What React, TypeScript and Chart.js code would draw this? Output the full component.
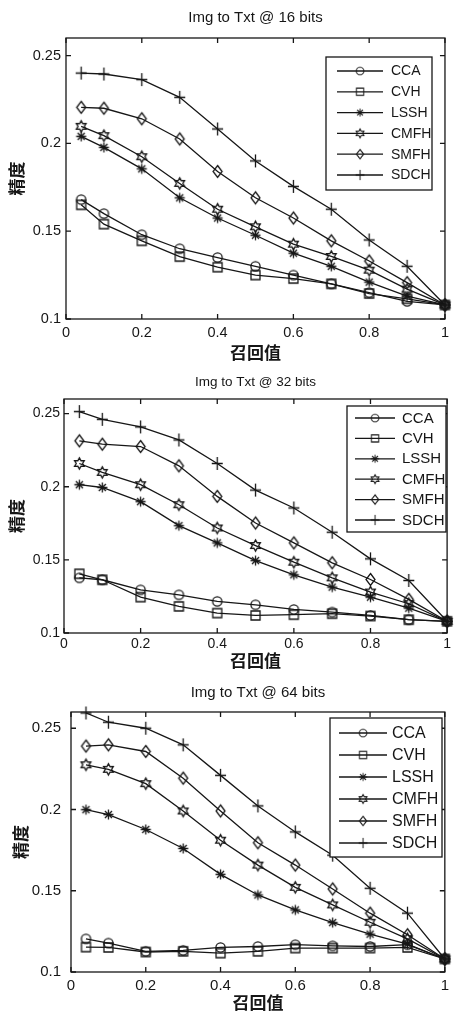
import React, { useEffect, useRef } from "react";
import { Chart, registerables } from "chart.js";

Chart.register(...registerables);

const recallLevels = [0.04, 0.1, 0.2, 0.3, 0.4, 0.5, 0.6, 0.7, 0.8, 0.9, 1.0];
const methodNames = ["CCA", "CVH", "LSSH", "CMFH", "SMFH", "SDCH"];
const xTickValues = [0, 0.2, 0.4, 0.6, 0.8, 1];
const yTickValues = [0.1, 0.15, 0.2, 0.25];
const chartTitles = ["Img to Txt @ 16 bits", "Img to Txt @ 32 bits", "Img to Txt @ 64 bits"];
const xAxisTitle = "召回值";
const yAxisTitle = "精度";

// 16 bits
const cca16 = [0.168, 0.16, 0.148, 0.14, 0.135, 0.13, 0.125, 0.12, 0.115, 0.11, 0.108];
const cvh16 = [0.165, 0.154, 0.1445, 0.1355, 0.1295, 0.125, 0.123, 0.12, 0.1145, 0.1115, 0.108];
const lssh16 = [0.204, 0.1977, 0.1855, 0.169, 0.1575, 0.1477, 0.1375, 0.13, 0.121, 0.113, 0.108];
const cmfh16 = [0.2097, 0.2044, 0.1924, 0.1772, 0.1625, 0.1525, 0.1426, 0.1356, 0.1278, 0.117, 0.108];
const smfh16 = [0.2205, 0.22, 0.214, 0.2025, 0.184, 0.169, 0.1575, 0.1445, 0.133, 0.1207, 0.108];
const sdch16 = [0.24, 0.2395, 0.2363, 0.2262, 0.2082, 0.19, 0.1755, 0.1625, 0.145, 0.13, 0.108];

// 32 bits
const cca32 = [0.1377, 0.1364, 0.1295, 0.1261, 0.1216, 0.1193, 0.1161, 0.1143, 0.112, 0.1091, 0.108];
const cvh32 = [0.1405, 0.1364, 0.1245, 0.1182, 0.1136, 0.112, 0.1125, 0.1132, 0.1116, 0.1091, 0.108];
const lssh32 = [0.2014, 0.1995, 0.1898, 0.1734, 0.1616, 0.1495, 0.1398, 0.1314, 0.1245, 0.117, 0.108];
const cmfh32 = [0.2159, 0.2098, 0.2014, 0.1877, 0.1718, 0.1598, 0.1484, 0.1377, 0.128, 0.12, 0.108];
const smfh32 = [0.2314, 0.2291, 0.2275, 0.2143, 0.1934, 0.1752, 0.1616, 0.148, 0.1366, 0.123, 0.108];
const sdch32 = [0.2514, 0.2461, 0.2409, 0.232, 0.2159, 0.1977, 0.1855, 0.1689, 0.1507, 0.1359, 0.108];

// 64 bits
const cca64 = [0.1204, 0.1178, 0.1127, 0.1133, 0.1151, 0.1157, 0.1168, 0.1161, 0.1157, 0.1168, 0.108];
const cvh64 = [0.1153, 0.1151, 0.1123, 0.1127, 0.1116, 0.1127, 0.1147, 0.1147, 0.1147, 0.1151, 0.108];
const lssh64 = [0.1999, 0.1969, 0.1877, 0.176, 0.1601, 0.1474, 0.1382, 0.1304, 0.1233, 0.1172, 0.108];
const cmfh64 = [0.2275, 0.2247, 0.2159, 0.1991, 0.1811, 0.1658, 0.1521, 0.1413, 0.1306, 0.1204, 0.108];
const smfh64 = [0.239, 0.2398, 0.2357, 0.2193, 0.1991, 0.1795, 0.1658, 0.1511, 0.1362, 0.1229, 0.108];
const sdch64 = [0.2594, 0.2537, 0.25, 0.2398, 0.221, 0.2022, 0.1862, 0.1719, 0.1515, 0.1362, 0.108];

const INK = "#161616";
const FONT = '"Liberation Sans", Arial, Helvetica, sans-serif';
const CJK = '"Noto Sans CJK SC", "Noto Sans CJK JP", sans-serif';
const markerKinds = ["circle", "square", "asterisk", "hexagram", "diamond", "plus"];

function makeMarker(kind: string): HTMLCanvasElement {
  const s = 17;
  const c = document.createElement("canvas");
  c.width = s;
  c.height = s;
  const g = c.getContext("2d")!;
  g.strokeStyle = INK;
  g.lineWidth = 1.3;
  const m = s / 2;
  g.beginPath();
  if (kind === "circle") {
    g.arc(m, m, 4.6, 0, Math.PI * 2);
  } else if (kind === "square") {
    g.rect(m - 4.5, m - 4.5, 9, 9);
  } else if (kind === "asterisk") {
    for (let k = 0; k < 4; k++) {
      const a = (k * Math.PI) / 4;
      g.moveTo(m + Math.cos(a) * 5, m + Math.sin(a) * 5);
      g.lineTo(m - Math.cos(a) * 5, m - Math.sin(a) * 5);
    }
  } else if (kind === "hexagram") {
    for (let k = 0; k < 12; k++) {
      const a = -Math.PI / 2 + (k * Math.PI) / 6;
      const r = k % 2 === 0 ? 5.6 : 3.2;
      const px = m + Math.cos(a) * r;
      const py = m + Math.sin(a) * r;
      if (k === 0) g.moveTo(px, py);
      else g.lineTo(px, py);
    }
    g.closePath();
  } else if (kind === "diamond") {
    g.moveTo(m, m - 6);
    g.lineTo(m + 4.5, m);
    g.lineTo(m, m + 6);
    g.lineTo(m - 4.5, m);
    g.closePath();
  } else if (kind === "plus") {
    g.moveTo(m - 5.5, m);
    g.lineTo(m + 5.5, m);
    g.moveTo(m, m - 6.5);
    g.lineTo(m, m + 6.5);
  }
  g.stroke();
  return c;
}

type PanelSpec = {
  title: string;
  series: number[][];
  top: number;
  height: number;
  plot: { left: number; right: number; top: number; bottom: number };
  titleY: number;
  titleSize: number;
  tickSize: number;
  yTickPad: number;
  xTickPad: number;
  yTitlePad: number;
  xTitlePad: number;
  legend: { x0: number; y0: number; x1: number; y1: number; row0: number; step: number; lx0: number; lx1: number; tx: number; size: number };
};

const panels: PanelSpec[] = [
  {
    title: chartTitles[0],
    series: [cca16, cvh16, lssh16, cmfh16, smfh16, sdch16],
    top: 0,
    height: 368,
    plot: { left: 66, right: 447, top: 38, bottom: 319 },
    titleY: 18,
    titleSize: 15,
    tickSize: 14.5,
    yTickPad: 5,
    xTickPad: 5,
    yTitlePad: 8.5,
    xTitlePad: 6.5,
    legend: { x0: 326, y0: 57, x1: 432, y1: 190, row0: 71, step: 20.8, lx0: 337, lx1: 383, tx: 391, size: 14 },
  },
  {
    title: chartTitles[1],
    series: [cca32, cvh32, lssh32, cmfh32, smfh32, sdch32],
    top: 368,
    height: 310,
    plot: { left: 64, right: 451, top: 31, bottom: 265 },
    titleY: 14,
    titleSize: 13.5,
    tickSize: 14,
    yTickPad: 4,
    xTickPad: 3,
    yTitlePad: 8.5,
    xTitlePad: 8.5,
    legend: { x0: 347, y0: 38, x1: 446, y1: 164, row0: 50, step: 20.4, lx0: 355, lx1: 395, tx: 402, size: 15 },
  },
  {
    title: chartTitles[2],
    series: [cca64, cvh64, lssh64, cmfh64, smfh64, sdch64],
    top: 678,
    height: 334,
    plot: { left: 71, right: 448, top: 34, bottom: 294 },
    titleY: 15,
    titleSize: 15,
    tickSize: 15,
    yTickPad: 10,
    xTickPad: 5,
    yTitlePad: 12.5,
    xTitlePad: 0.5,
    legend: { x0: 330, y0: 40, x1: 442, y1: 179, row0: 55, step: 22, lx0: 339, lx1: 387, tx: 392, size: 16 },
  },
];

const fmt = (v: number) => String(+Number(v).toFixed(2));

function buildConfig(spec: PanelSpec, markers: HTMLCanvasElement[]): any {
  const W = 454;
  const framePlugin = {
    id: "matlabFrame",
    afterDraw(chart: any) {
      const { ctx, chartArea: a, scales } = chart;
      ctx.save();
      ctx.strokeStyle = INK;
      ctx.lineWidth = 1.3;
      ctx.strokeRect(a.left, a.top, a.right - a.left, a.bottom - a.top);
      const tl = 5;
      ctx.beginPath();
      for (const v of xTickValues) {
        const px = scales.x.getPixelForValue(v);
        ctx.moveTo(px, a.bottom);
        ctx.lineTo(px, a.bottom - tl);
        ctx.moveTo(px, a.top);
        ctx.lineTo(px, a.top + tl);
      }
      for (const v of yTickValues) {
        const py = scales.y.getPixelForValue(v);
        ctx.moveTo(a.left, py);
        ctx.lineTo(a.left + tl, py);
        ctx.moveTo(a.right, py);
        ctx.lineTo(a.right - tl, py);
      }
      ctx.stroke();
      // title
      ctx.fillStyle = INK;
      ctx.font = `${spec.titleSize}px ${FONT}`;
      ctx.textAlign = "center";
      ctx.textBaseline = "middle";
      ctx.fillText(spec.title, (a.left + a.right) / 2, spec.titleY);
      // legend
      const L = spec.legend;
      ctx.fillStyle = "#ffffff";
      ctx.fillRect(L.x0, L.y0, L.x1 - L.x0, L.y1 - L.y0);
      ctx.strokeRect(L.x0, L.y0, L.x1 - L.x0, L.y1 - L.y0);
      ctx.font = `${L.size}px ${FONT}`;
      ctx.textAlign = "left";
      chart.data.datasets.forEach((ds: any, i: number) => {
        const y = L.row0 + i * L.step;
        ctx.beginPath();
        ctx.lineWidth = 1.3;
        ctx.moveTo(L.lx0, y);
        ctx.lineTo(L.lx1, y);
        ctx.stroke();
        const img = markers[i];
        const k = 0.8;
        const w = img.width * k;
        const h = img.height * k;
        ctx.drawImage(img, (L.lx0 + L.lx1) / 2 - w / 2, y - h / 2, w, h);
        ctx.fillStyle = INK;
        ctx.fillText(ds.label, L.tx, y + 0.5);
      });
      ctx.restore();
    },
  };

  return {
    type: "line",
    data: {
      datasets: methodNames.map((name, i) => ({
        label: name,
        data: recallLevels.map((x, j) => ({ x, y: spec.series[i][j] })),
        borderColor: INK,
        borderWidth: 1.3,
        backgroundColor: "transparent",
        pointStyle: markers[i],
        pointRadius: 5,
        fill: false,
        tension: 0,
        clip: false,
      })),
    },
    options: {
      responsive: false,
      animation: false,
      events: [],
      layout: {
        padding: { left: 0, top: spec.plot.top, right: W - spec.plot.right, bottom: 0 },
      },
      plugins: {
        legend: { display: false },
        title: { display: false },
        tooltip: { enabled: false },
      },
      scales: {
        x: {
          type: "linear",
          min: 0,
          max: 1,
          afterBuildTicks: (s: any) => {
            s.ticks = xTickValues.map((v) => ({ value: v }));
          },
          afterFit: (s: any) => {
            s.height = spec.height - spec.plot.bottom;
          },
          grid: { display: false, drawTicks: false },
          border: { display: false },
          ticks: {
            callback: (v: any) => fmt(v),
            color: INK,
            font: { family: FONT, size: spec.tickSize },
            padding: spec.xTickPad,
            maxRotation: 0,
            autoSkip: false,
          },
          title: {
            display: true,
            text: xAxisTitle,
            color: INK,
            font: { family: CJK, size: 17, weight: "bold", lineHeight: 1 },
            padding: { top: 0, bottom: spec.xTitlePad },
          },
        },
        y: {
          type: "linear",
          min: 0.1,
          max: 0.26,
          afterBuildTicks: (s: any) => {
            s.ticks = yTickValues.map((v) => ({ value: v }));
          },
          afterFit: (s: any) => {
            s.width = spec.plot.left;
          },
          grid: { display: false, drawTicks: false },
          border: { display: false },
          ticks: {
            callback: (v: any) => fmt(v),
            color: INK,
            font: { family: FONT, size: spec.tickSize },
            padding: spec.yTickPad,
            autoSkip: false,
          },
          title: {
            display: true,
            text: yAxisTitle,
            color: INK,
            font: { family: CJK, size: 17, weight: "bold", lineHeight: 1 },
            padding: { top: spec.yTitlePad, bottom: 0 },
          },
        },
      },
    },
    plugins: [framePlugin],
  };
}

function Panel({ spec }: { spec: PanelSpec }) {
  const ref = useRef<HTMLCanvasElement>(null);
  useEffect(() => {
    const markers = markerKinds.map(makeMarker);
    const chart = new Chart(ref.current as HTMLCanvasElement, buildConfig(spec, markers));
    return () => chart.destroy();
  }, [spec]);
  return (
    <div style={{ position: "absolute", left: 0, top: spec.top, width: 454, height: spec.height }}>
      <canvas ref={ref} width={454} height={spec.height} style={{ width: 454, height: spec.height, display: "block" }} />
    </div>
  );
}

export default function App() {
  return (
    <div style={{ position: "absolute", left: 0, top: 0, width: 454, height: 1012, background: "#fff" }}>
      {panels.map((p, i) => (
        <Panel key={i} spec={p} />
      ))}
    </div>
  );
}
